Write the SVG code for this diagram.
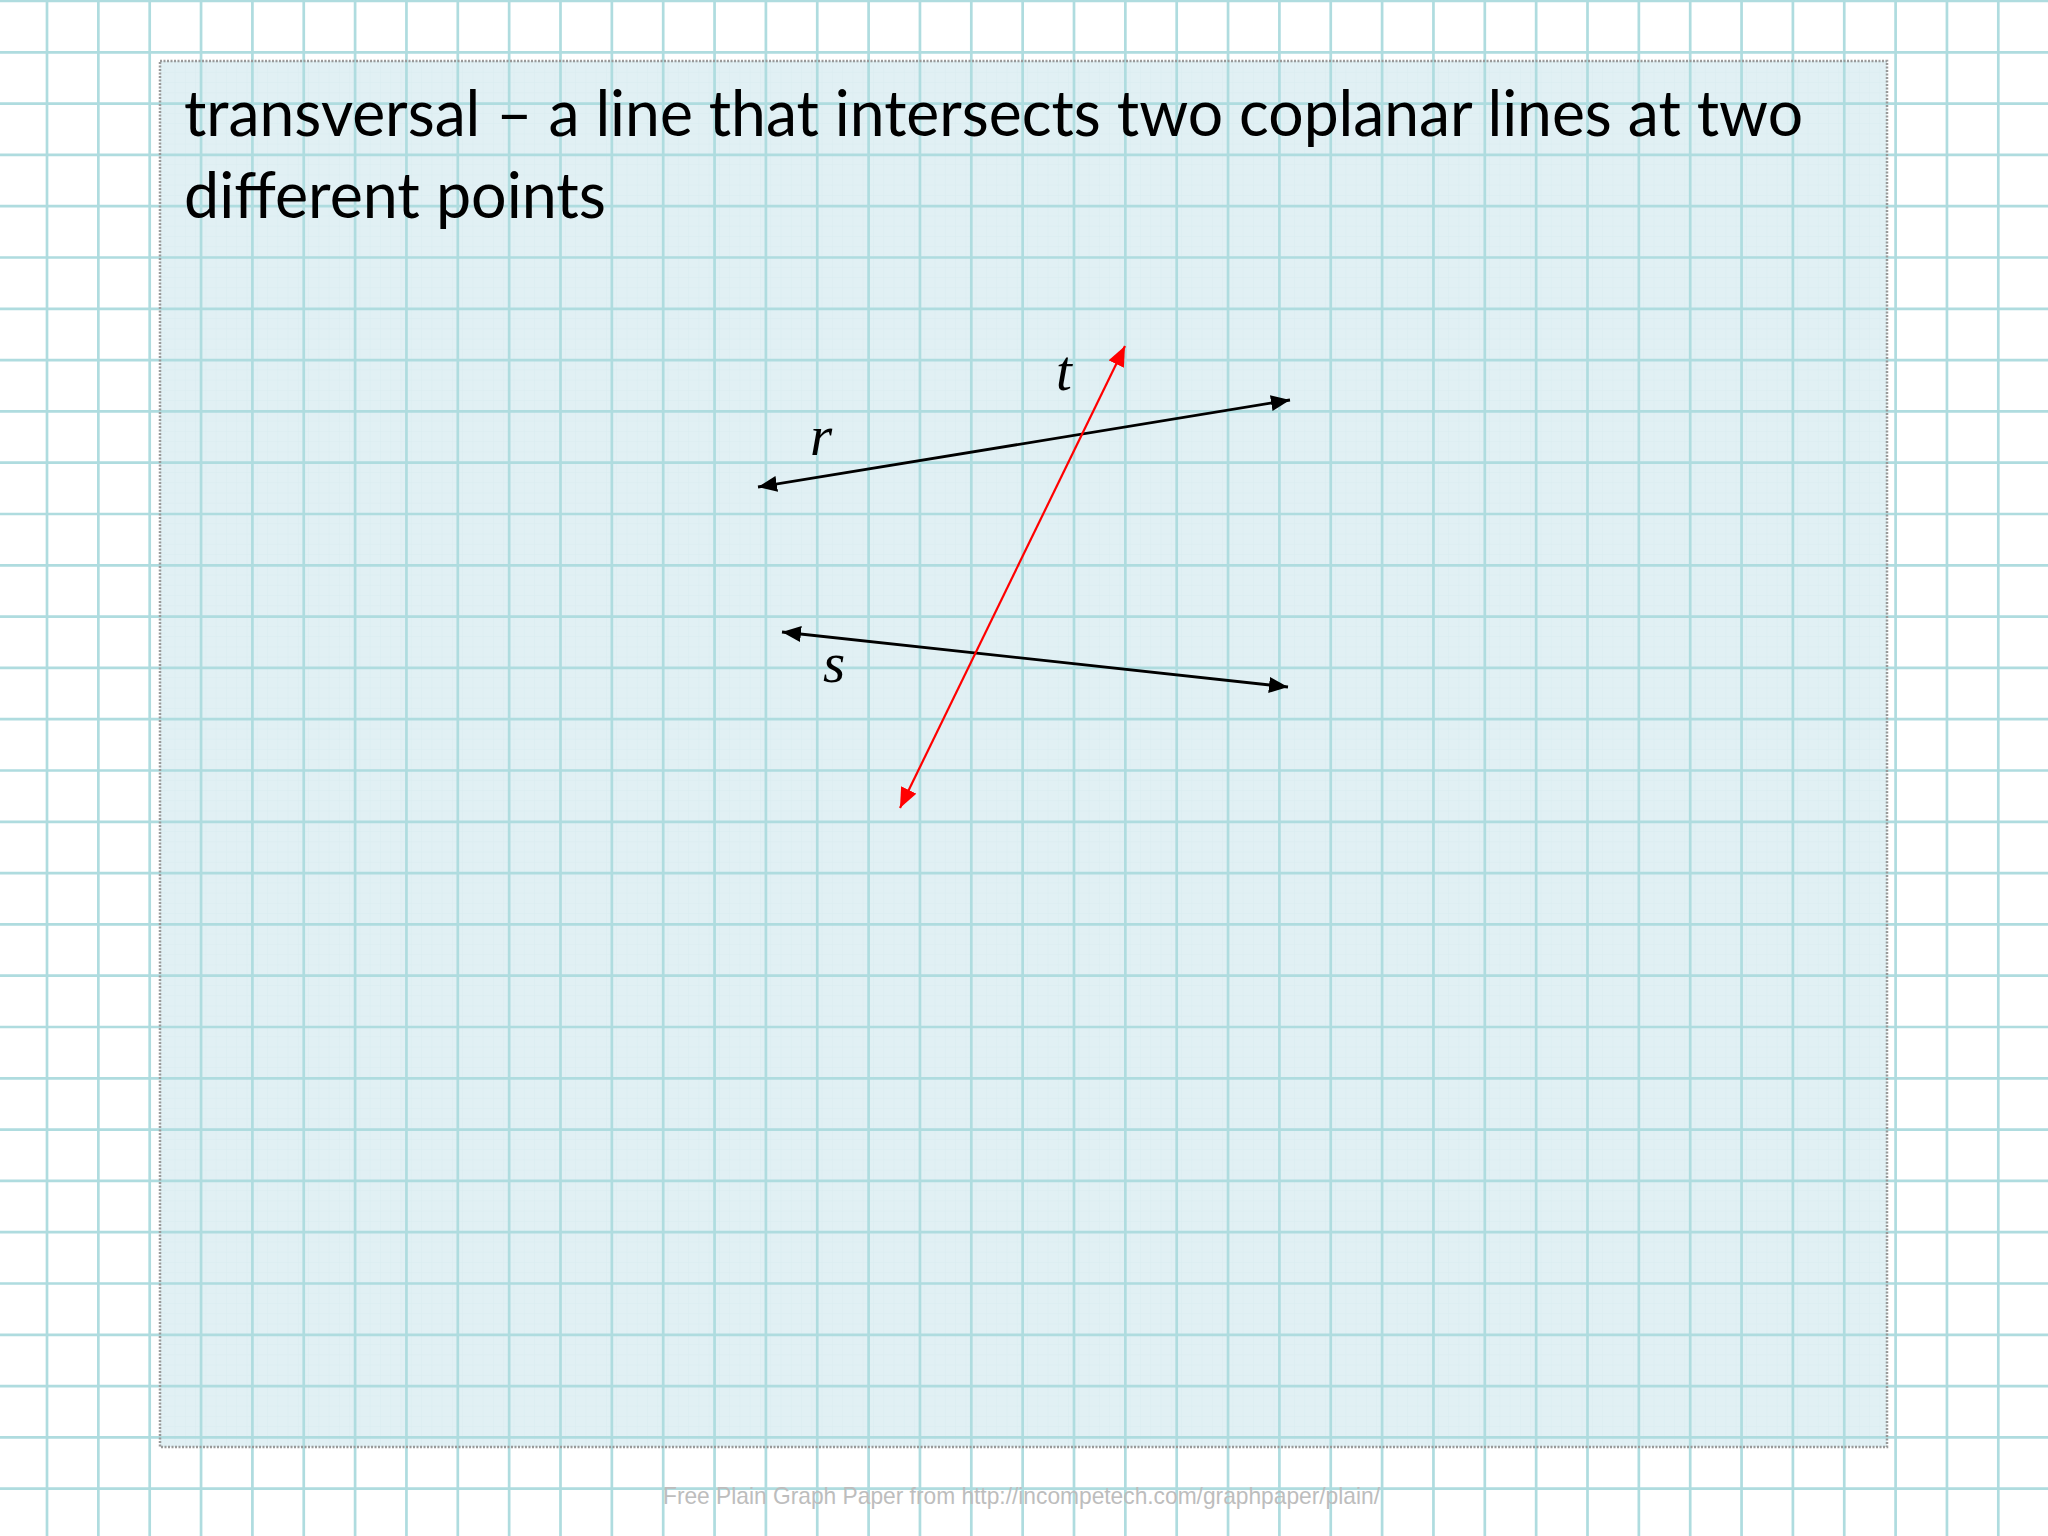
<svg xmlns="http://www.w3.org/2000/svg" width="2048" height="1536" viewBox="0 0 2048 1536">
  <style>
    .grid { stroke: #afdcdf; stroke-width: 2.7; fill: none; }
    .fine { stroke: #d2e8ec; stroke-width: 1; fill: none; }
    .title { font-family: "Lato", "Open Sans", sans-serif; font-weight: 400; font-size: 63px; fill: #000; }
    .lbl { font-family: "Liberation Serif", "Times New Roman", serif; font-style: italic; font-size: 57px; fill: #000; }
    .foot { font-family: "Liberation Sans", Arial, sans-serif; font-size: 24px; fill: #bdbdbd; }
    .blk { stroke: #000; stroke-width: 2.8; fill: none; }
    .red { stroke: #ff0000; stroke-width: 2.2; fill: none; }
  </style>
  <defs>
    <pattern id="finegrid" x="0" y="0" width="10.27" height="10.26" patternUnits="userSpaceOnUse">
      <path class="fine" d="M0,0 V10.26 M0,0 H10.27"/>
    </pattern>
    <marker id="ahB" markerUnits="userSpaceOnUse" markerWidth="22" markerHeight="18" refX="19" refY="8" orient="auto-start-reverse">
      <path d="M0,0 L19,8 L0,16 Z" fill="#000"/>
    </marker>
    <marker id="ahR" markerUnits="userSpaceOnUse" markerWidth="22" markerHeight="20" refX="20" refY="8.5" orient="auto-start-reverse">
      <path d="M0,0 L20,8.5 L0,17 Z" fill="#ff0000"/>
    </marker>
  </defs>

  <rect id="background" x="0" y="0" width="2048" height="1536" fill="#ffffff"/>

  <g id="panel">
    <rect x="160" y="61" width="1727" height="1386" fill="#e1f0f4"/>
    <rect x="160" y="61" width="1727" height="1386" fill="url(#finegrid)" opacity="0.5"/>
  </g>

  <g id="grid">
    <path class="grid" d="M47,0 V1536 M98.35,0 V1536 M149.7,0 V1536 M201.05,0 V1536 M252.4,0 V1536 M303.75,0 V1536 M355.1,0 V1536 M406.45,0 V1536 M457.8,0 V1536 M509.15,0 V1536 M560.5,0 V1536 M611.85,0 V1536 M663.2,0 V1536 M714.55,0 V1536 M765.9,0 V1536 M817.25,0 V1536 M868.6,0 V1536 M919.95,0 V1536 M971.3,0 V1536 M1022.65,0 V1536 M1074,0 V1536 M1125.35,0 V1536 M1176.7,0 V1536 M1228.05,0 V1536 M1279.4,0 V1536 M1330.75,0 V1536 M1382.1,0 V1536 M1433.45,0 V1536 M1484.8,0 V1536 M1536.15,0 V1536 M1587.5,0 V1536 M1638.85,0 V1536 M1690.2,0 V1536 M1741.55,0 V1536 M1792.9,0 V1536 M1844.25,0 V1536 M1895.6,0 V1536 M1946.95,0 V1536 M1998.3,0 V1536"/>
    <path class="grid" d="M0,1 H2048 M0,52.3 H2048 M0,103.6 H2048 M0,154.9 H2048 M0,206.2 H2048 M0,257.5 H2048 M0,308.8 H2048 M0,360.1 H2048 M0,411.4 H2048 M0,462.7 H2048 M0,514 H2048 M0,565.3 H2048 M0,616.6 H2048 M0,667.9 H2048 M0,719.2 H2048 M0,770.5 H2048 M0,821.8 H2048 M0,873.1 H2048 M0,924.4 H2048 M0,975.7 H2048 M0,1027 H2048 M0,1078.3 H2048 M0,1129.6 H2048 M0,1180.9 H2048 M0,1232.2 H2048 M0,1283.5 H2048 M0,1334.8 H2048 M0,1386.1 H2048 M0,1437.4 H2048 M0,1488.7 H2048"/>
  </g>

  <rect id="panel-border" x="160" y="61" width="1727" height="1386" fill="none" stroke="#999999" stroke-width="2.5" stroke-dasharray="2 1.5"/>

  <g id="title">
    <text class="title" x="184" y="136" textLength="1619" lengthAdjust="spacingAndGlyphs">transversal – a line that intersects two coplanar lines at two</text>
    <text class="title" x="184" y="218" textLength="422" lengthAdjust="spacingAndGlyphs">different points</text>
  </g>

  <g id="connectors">
    <line id="line-r" class="blk" x1="758" y1="487" x2="1290" y2="400" marker-start="url(#ahB)" marker-end="url(#ahB)"/>
    <line id="line-s" class="blk" x1="782" y1="632" x2="1288" y2="687" marker-start="url(#ahB)" marker-end="url(#ahB)"/>
    <line id="line-t" class="red" x1="900" y1="808" x2="1125" y2="346" marker-start="url(#ahR)" marker-end="url(#ahR)"/>
  </g>

  <g id="label-r"><text class="lbl" x="810" y="455">r</text></g>
  <g id="label-t"><text class="lbl" x="1056" y="390">t</text></g>
  <g id="label-s"><text class="lbl" x="823" y="682">s</text></g>

  <g id="footer">
    <text class="foot" x="663" y="1504" textLength="717" lengthAdjust="spacingAndGlyphs">Free Plain Graph Paper from http://incompetech.com/graphpaper/plain/</text>
  </g>
</svg>
